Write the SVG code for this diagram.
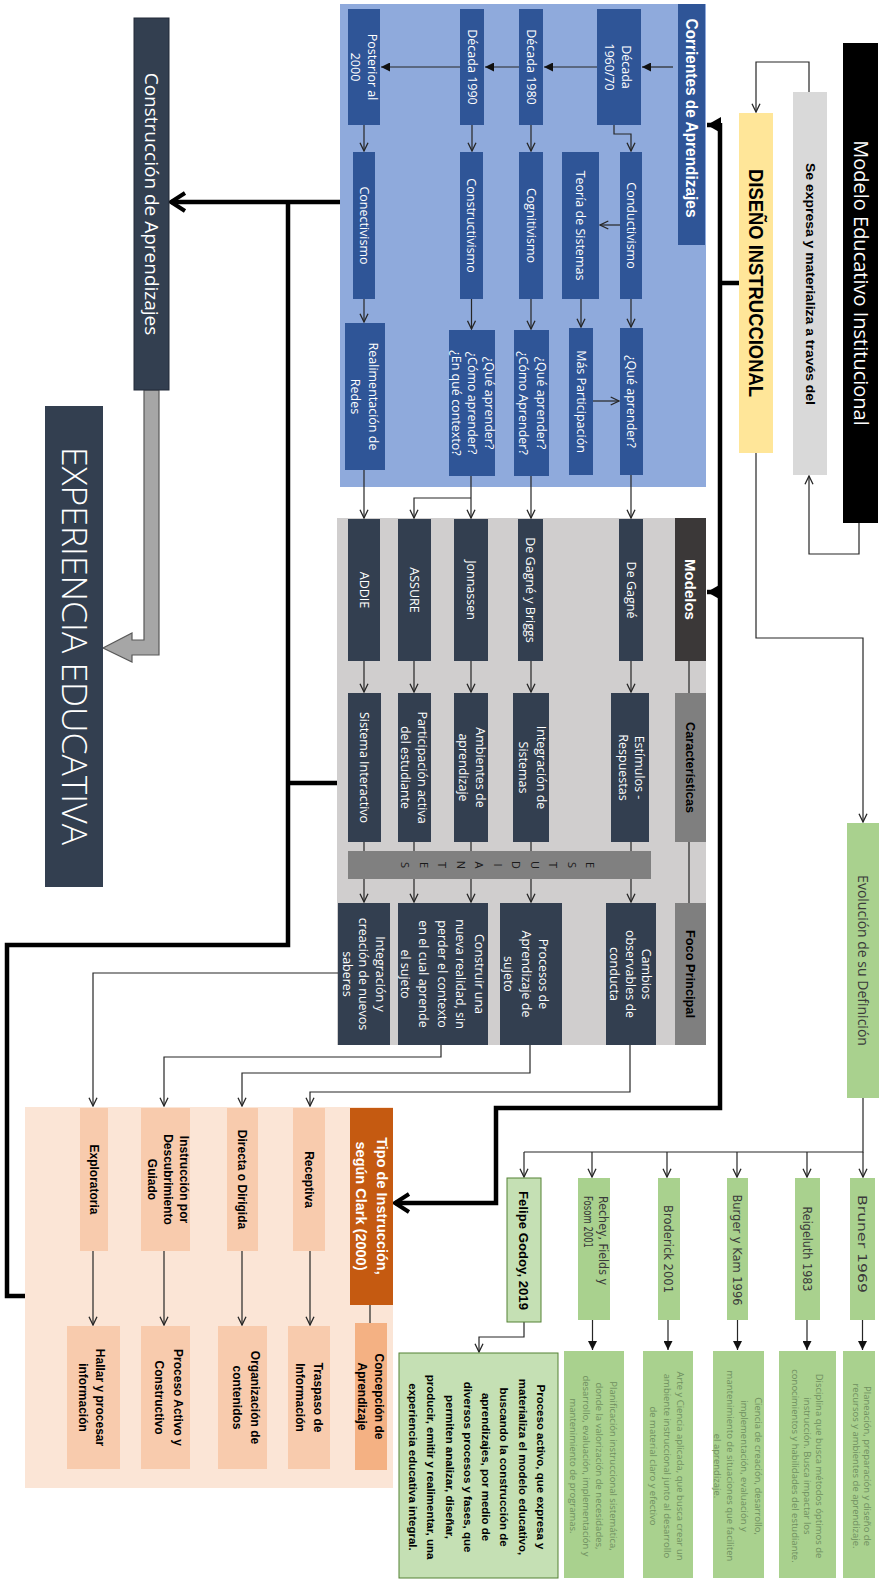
<svg xmlns="http://www.w3.org/2000/svg" width="882" height="1583" viewBox="0 0 882 1583">
<defs>
<style>
.s{font-family:"Open Sans","Noto Sans","DejaVu Sans",sans-serif;text-anchor:middle}
.v{font-family:"DejaVu Sans","Noto Sans",sans-serif;text-anchor:middle}
.b{font-family:"Liberation Sans Narrow","Liberation Sans",Arial,sans-serif;font-weight:bold;text-anchor:middle}
.w{fill:#ffffff}
.k{fill:#000000}
.d{fill:#3a3a3a}
.g{fill:#6f8f5f}
.f12{font-size:12.5px}
.f9{font-size:9.5px}
.f12b{font-size:12px}
.ln{fill:none;stroke:#262626;stroke-width:1.2}
.tk{fill:none;stroke:#000;stroke-width:4.5}
.blue{fill:#2f5597}
.navy{fill:#333f50}
.grn{fill:#a9d18e}
.pch{fill:#f8cbad}
.lg{fill:#c5e0b4;stroke:#548235;stroke-width:1}
</style>
<marker id="oa" viewBox="0 0 10 10" refX="9.3" refY="5" markerWidth="10" markerHeight="10" markerUnits="userSpaceOnUse" orient="auto"><path d="M1,1 L9.3,5 L1,9" fill="none" stroke="#262626" stroke-width="1.3"/></marker>
<marker id="fa" viewBox="0 0 10 10" refX="10" refY="5" markerWidth="9" markerHeight="9" markerUnits="userSpaceOnUse" orient="auto"><path d="M0,0 L10,5 L0,10z" fill="#111"/></marker>
<marker id="ta" viewBox="0 0 20 22" refX="17" refY="11" markerWidth="20" markerHeight="22" markerUnits="userSpaceOnUse" orient="auto"><path d="M3,2 L17,11 L3,20" fill="none" stroke="#000" stroke-width="4"/></marker>
<marker id="bt" viewBox="0 0 14 16" refX="14" refY="8" markerWidth="14" markerHeight="16" markerUnits="userSpaceOnUse" orient="auto"><path d="M0,0 L14,8 L0,16z" fill="#000"/></marker>
</defs>
<rect x="0" y="0" width="882" height="1583" fill="#ffffff"/>

<!-- panels -->
<g id="panel-corrientes"><rect x="340" y="4" width="366" height="483" fill="#8faadc"/></g>
<g id="panel-modelos"><rect x="337" y="518" width="369" height="527" fill="#d0cece"/></g>
<g id="panel-tipo"><rect x="25" y="1107" width="368" height="381" fill="#fbe5d6"/></g>

<!-- connectors -->
<g id="connectors">
<path class="ln" d="M859,523 V554 H809 V476" marker-end="url(#oa)"/>
<path class="ln" d="M809,92 V62 H756 V112" marker-end="url(#oa)"/>
<path class="ln" d="M756,453 V638 H863 V822" marker-end="url(#oa)"/>
<path class="ln" d="M863,1098 V1152 H524"/>
<path class="ln" d="M863,1152 V1177" marker-end="url(#oa)"/>
<path class="ln" d="M807,1152 V1177" marker-end="url(#oa)"/>
<path class="ln" d="M737,1152 V1177" marker-end="url(#oa)"/>
<path class="ln" d="M667,1152 V1177" marker-end="url(#oa)"/>
<path class="ln" d="M592,1152 V1177" marker-end="url(#oa)"/>
<path class="ln" d="M524,1152 V1177" marker-end="url(#oa)"/>
<path class="ln" d="M862.5,1320 V1350" marker-end="url(#fa)"/>
<path class="ln" d="M807,1320 V1350" marker-end="url(#fa)"/>
<path class="ln" d="M737.5,1320 V1350" marker-end="url(#fa)"/>
<path class="ln" d="M668,1320 V1350" marker-end="url(#fa)"/>
<path class="ln" d="M592.5,1320 V1350" marker-end="url(#fa)"/>
<path class="ln" d="M524,1322 V1337 H479 V1352" marker-end="url(#oa)"/>
<path class="ln" d="M673,67 H642" marker-end="url(#fa)"/>
<path class="ln" d="M597,67 H544" marker-end="url(#fa)"/>
<path class="ln" d="M519,67 H485" marker-end="url(#fa)"/>
<path class="ln" d="M460,67 H381" marker-end="url(#fa)"/>
<path class="ln" d="M614,125 V134 H631 V151" marker-end="url(#oa)"/>
<path class="ln" d="M531,125 V151" marker-end="url(#oa)"/>
<path class="ln" d="M472,125 V151" marker-end="url(#oa)"/>
<path class="ln" d="M364,125 V151" marker-end="url(#oa)"/>
<path class="ln" d="M620,225 H600" marker-end="url(#oa)"/>
<path class="ln" d="M631,299 V327" marker-end="url(#oa)"/>
<path class="ln" d="M581,299 V327" marker-end="url(#oa)"/>
<path class="ln" d="M531,299 V329" marker-end="url(#oa)"/>
<path class="ln" d="M471.5,299 V329" marker-end="url(#oa)"/>
<path class="ln" d="M364,299 V322" marker-end="url(#oa)"/>
<path class="ln" d="M593,401 H619" marker-end="url(#oa)"/>
<path class="ln" d="M631,475 V518" marker-end="url(#oa)"/>
<path class="ln" d="M531,476 V518" marker-end="url(#oa)"/>
<path class="ln" d="M471,476 V518" marker-end="url(#oa)"/>
<path class="ln" d="M471,498 H414 V518" marker-end="url(#oa)"/>
<path class="ln" d="M364,470 V518" marker-end="url(#oa)"/>
<path class="ln" d="M631,661 V692" marker-end="url(#oa)"/>
<path class="ln" d="M531,661 V692" marker-end="url(#oa)"/>
<path class="ln" d="M471,661 V692" marker-end="url(#oa)"/>
<path class="ln" d="M414,661 V692" marker-end="url(#oa)"/>
<path class="ln" d="M364,661 V692" marker-end="url(#oa)"/>
<path class="ln" d="M631,842 V851 M531,842 V851 M471,842 V851 M414,842 V851 M364,842 V851"/>
<path class="ln" d="M631,879 V902" marker-end="url(#oa)"/>
<path class="ln" d="M531,879 V902" marker-end="url(#oa)"/>
<path class="ln" d="M471,879 V902" marker-end="url(#oa)"/>
<path class="ln" d="M414,879 V902" marker-end="url(#oa)"/>
<path class="ln" d="M364,879 V902" marker-end="url(#oa)"/>
<path class="ln" d="M689,661 V693 M689,842 V903"/>
<path class="ln" d="M630,1045 V1092 H310 V1106" marker-end="url(#oa)"/>
<path class="ln" d="M530,1045 V1073 H242 V1106" marker-end="url(#oa)"/>
<path class="ln" d="M441,1045 V1057 H164 V1106" marker-end="url(#oa)"/>
<path class="ln" d="M338,973 H93 V1106" marker-end="url(#oa)"/>
<path class="ln" d="M370,1305 V1323"/>
<path class="ln" d="M310,1251 V1325" marker-end="url(#oa)"/>
<path class="ln" d="M242,1251 V1325" marker-end="url(#oa)"/>
<path class="ln" d="M164,1251 V1325" marker-end="url(#oa)"/>
<path class="ln" d="M93,1251 V1325" marker-end="url(#oa)"/>
<path class="tk" d="M720,283 H739"/>
<path class="tk" d="M720,123 V1108 H496 V1203 H395" marker-end="url(#ta)"/>
<path class="tk" d="M720,125 H707" marker-end="url(#bt)"/>
<path class="tk" d="M720,592 H707" marker-end="url(#bt)"/>
<path class="tk" d="M340,202 H171" marker-end="url(#ta)"/>
<path class="tk" d="M288,202 V945 H7 V1296 H25"/>
<path class="tk" d="M337,783 H288"/>
<polygon points="144,390 144,640 132,640 132,633 103,648 132,662 132,655 159,655 159,390" fill="#a6a6a6" stroke="#595959" stroke-width="1.2"/>
</g>

<!-- top nodes -->
<g id="modelo-educativo"><rect x="843" y="43" width="35" height="480" fill="#000"/><text class="s w" font-size="20" transform="translate(860.5,283) rotate(90)" y="7">Modelo Educativo Institucional</text></g>
<g id="se-expresa"><rect x="793" y="92" width="34" height="383" fill="#d9d9d9"/><text class="b k" font-size="12.5" transform="translate(810,284) rotate(90)" y="4.4" textLength="242" lengthAdjust="spacingAndGlyphs">Se expresa y materializa a través del</text></g>
<g id="diseno-instruccional"><rect x="739" y="113" width="34" height="340" fill="#ffe699"/><text class="b k" font-size="21" transform="translate(756,283) rotate(90)" y="7.5" textLength="228" lengthAdjust="spacingAndGlyphs">DISEÑO INSTRUCCIONAL</text></g>

<!-- corrientes -->
<g id="corrientes-titulo"><rect x="678" y="4" width="27" height="241" class="blue"/><text class="b w" font-size="16" transform="translate(691.5,118) rotate(90)" y="5.6" textLength="199" lengthAdjust="spacingAndGlyphs">Corrientes de Aprendizajes</text></g>
<g id="decada-1960"><rect x="597" y="9" width="44" height="116" class="blue"/><text class="s w f12" transform="translate(617.5,67) rotate(90)"><tspan x="0" y="-4.1">Década</tspan><tspan x="0" y="12.9">1960/70</tspan></text></g>
<g id="decada-1980"><rect x="519" y="9" width="24" height="116" class="blue"/><text class="s w f12" transform="translate(531,67) rotate(90)" y="4.4">Década 1980</text></g>
<g id="decada-1990"><rect x="460" y="9" width="24" height="116" class="blue"/><text class="s w f12" transform="translate(472,67) rotate(90)" y="4.4">Década 1990</text></g>
<g id="posterior-2000"><rect x="348" y="9" width="32" height="116" class="blue"/><text class="s w f12" transform="translate(363.5,67) rotate(90)"><tspan x="0" y="-4.1">Posterior al</tspan><tspan x="0" y="12.9">2000</tspan></text></g>
<g id="conductivismo"><rect x="620" y="152" width="22" height="147" class="blue"/><text class="s w f12" transform="translate(631,225.5) rotate(90)" y="4.4">Conductivismo</text></g>
<g id="teoria-sistemas"><rect x="562" y="152" width="37" height="147" class="blue"/><text class="s w f12" transform="translate(580.5,225.5) rotate(90)" y="4.4">Teoría de Sistemas</text></g>
<g id="cognitivismo"><rect x="519" y="152" width="24" height="147" class="blue"/><text class="s w f12" transform="translate(531,225.5) rotate(90)" y="4.4">Cognitivismo</text></g>
<g id="constructivismo"><rect x="460" y="152" width="23" height="147" class="blue"/><text class="s w f12" transform="translate(471.5,225.5) rotate(90)" y="4.4">Constructivismo</text></g>
<g id="conectivismo"><rect x="353" y="152" width="22" height="147" class="blue"/><text class="s w f12" transform="translate(364,225.5) rotate(90)" y="4.4">Conectivismo</text></g>
<g id="que-aprender-1"><rect x="620" y="328" width="23" height="147" class="blue"/><text class="s w f12" transform="translate(631.5,401.5) rotate(90)" y="4.4">¿Qué aprender?</text></g>
<g id="mas-participacion"><rect x="569" y="328" width="24" height="147" class="blue"/><text class="s w f12" transform="translate(581,401.5) rotate(90)" y="4.4">Más Participación</text></g>
<g id="que-aprender-2"><rect x="514" y="330" width="35" height="146" class="blue"/><text class="s w f12" transform="translate(532,403) rotate(90)"><tspan x="0" y="-4.6">¿Qué aprender?</tspan><tspan x="0" y="13.4">¿Cómo Aprender?</tspan></text></g>
<g id="que-aprender-3"><rect x="449" y="330" width="46" height="146" class="blue"/><text class="s w f12" transform="translate(472.5,403) rotate(90)"><tspan x="0" y="-12.1">¿Qué aprender?</tspan><tspan x="0" y="4.4">¿Cómo aprender?</tspan><tspan x="0" y="20.9">¿En qué contexto?</tspan></text></g>
<g id="realimentacion"><rect x="345" y="323" width="40" height="147" class="blue"/><text class="s w f12" transform="translate(364,396.5) rotate(90)"><tspan x="0" y="-4.6">Realimentación de</tspan><tspan x="0" y="13.4">Redes</tspan></text></g>

<!-- modelos -->
<g id="hdr-modelos"><rect x="675" y="518" width="31" height="143" fill="#3b3838"/><text class="b w" font-size="15" transform="translate(690.5,589.5) rotate(90)" y="5.2">Modelos</text></g>
<g id="hdr-caracteristicas"><rect x="675" y="693" width="31" height="149" fill="#7f7f7f"/><text class="b k" font-size="13" transform="translate(690.5,767.5) rotate(90)" y="4.6" textLength="91" lengthAdjust="spacingAndGlyphs">Características</text></g>
<g id="hdr-foco"><rect x="675" y="903" width="31" height="142" fill="#7f7f7f"/><text class="b k" font-size="13" transform="translate(690.5,974) rotate(90)" y="4.6" textLength="88" lengthAdjust="spacingAndGlyphs">Foco Principal</text></g>
<g id="de-gagne"><rect x="619" y="519" width="24" height="142" class="navy"/><text class="s w f12" transform="translate(631,590) rotate(90)" y="4.4">De Gagné</text></g>
<g id="gagne-briggs"><rect x="518" y="519" width="25" height="142" class="navy"/><text class="s w f12" transform="translate(530.5,590) rotate(90)" y="4.4">De Gagné y Briggs</text></g>
<g id="jonnassen"><rect x="454" y="519" width="34" height="142" class="navy"/><text class="s w f12" transform="translate(471,590) rotate(90)" y="4.4">Jonnassen</text></g>
<g id="assure"><rect x="398" y="519" width="33" height="142" class="navy"/><text class="s w f12" transform="translate(414.5,590) rotate(90)" y="4.4">ASSURE</text></g>
<g id="addie"><rect x="348" y="519" width="32" height="142" class="navy"/><text class="s w f12" transform="translate(364,590) rotate(90)" y="4.4">ADDIE</text></g>
<g id="estimulos"><rect x="611" y="693" width="38" height="149" class="navy"/><text class="s w f12" transform="translate(631,767.5) rotate(90)"><tspan x="0" y="-3.6">Estímulos -</tspan><tspan x="0" y="12.4">Respuestas</tspan></text></g>
<g id="integracion-sistemas"><rect x="513" y="693" width="36" height="149" class="navy"/><text class="s w f12" transform="translate(532,767.5) rotate(90)"><tspan x="0" y="-4.6">Integración de</tspan><tspan x="0" y="13.4">Sistemas</tspan></text></g>
<g id="ambientes"><rect x="454" y="693" width="34" height="149" class="navy"/><text class="s w f12" transform="translate(471.5,767.5) rotate(90)"><tspan x="0" y="-4.1">Ambientes de</tspan><tspan x="0" y="12.9">aprendizaje</tspan></text></g>
<g id="participacion"><rect x="398" y="693" width="33" height="149" class="navy"/><text class="s w f12" transform="translate(414,767.5) rotate(90)"><tspan x="0" y="-4.1">Participación activa</tspan><tspan x="0" y="12.9">del estudiante</tspan></text></g>
<g id="sistema-interactivo"><rect x="348" y="693" width="33" height="149" class="navy"/><text class="s w f12" transform="translate(364.5,767.5) rotate(90)" y="4.4">Sistema Interactivo</text></g>
<g id="estudiantes"><rect x="348" y="851" width="303" height="28" fill="#808080"/><text class="s" font-size="11" fill="#1a1a1a" transform="translate(590,865) rotate(90)"><tspan x="0" y="4">E</tspan><tspan x="0" y="22.5">S</tspan><tspan x="0" y="41">T</tspan><tspan x="0" y="59.5">U</tspan><tspan x="0" y="78">D</tspan><tspan x="0" y="96.5">I</tspan><tspan x="0" y="115">A</tspan><tspan x="0" y="133.5">N</tspan><tspan x="0" y="152">T</tspan><tspan x="0" y="170.5">E</tspan><tspan x="0" y="189">S</tspan></text></g>
<g id="cambios"><rect x="606" y="903" width="50" height="142" class="navy"/><text class="s w f12" transform="translate(630,974) rotate(90)"><tspan x="0" y="-11.6">Cambios</tspan><tspan x="0" y="4.4">observables de</tspan><tspan x="0" y="20.4">conducta</tspan></text></g>
<g id="procesos"><rect x="500" y="903" width="62" height="142" class="navy"/><text class="s w f12" transform="translate(526,974) rotate(90)"><tspan x="0" y="-13.1">Procesos de</tspan><tspan x="0" y="4.4">Aprendizaje de</tspan><tspan x="0" y="21.9">sujeto</tspan></text></g>
<g id="construir"><rect x="398" y="903" width="90" height="142" class="navy"/><text class="s w f12" transform="translate(442,974) rotate(90)"><tspan x="0" y="-32.6">Construir una</tspan><tspan x="0" y="-14.1">nueva realidad, sin</tspan><tspan x="0" y="4.4">perder el contexto</tspan><tspan x="0" y="22.9">en el cual aprende</tspan><tspan x="0" y="41.4">el sujeto</tspan></text></g>
<g id="integracion-saberes"><rect x="338" y="903" width="52" height="142" class="navy"/><text class="s w f12" transform="translate(363.5,974) rotate(90)"><tspan x="0" y="-12.1">Integración y</tspan><tspan x="0" y="4.4">creación de nuevos</tspan><tspan x="0" y="20.9">saberes</tspan></text></g>

<!-- left -->
<g id="construccion"><rect x="134" y="18" width="35" height="372" fill="#333f50" stroke="#222b38"/><text class="s w" font-size="19" transform="translate(151.5,204) rotate(90)" y="6.6">Construcción de Aprendizajes</text></g>
<g id="experiencia"><rect x="45" y="406" width="58" height="481" fill="#333f50"/><text class="s w" font-size="34" font-weight="300" transform="translate(74,646) rotate(90)" y="12" textLength="398" lengthAdjust="spacingAndGlyphs">EXPERIENCIA EDUCATIVA</text></g>

<!-- tipo de instruccion -->
<g id="tipo-titulo"><rect x="350" y="1108" width="43" height="197" fill="#c55a11"/><text class="b w" font-size="14.5" transform="translate(371.5,1206) rotate(90)"><tspan x="0" y="-5.5">Tipo de Instrucción,</tspan><tspan x="0" y="15.5">según Clark (2000)</tspan></text></g>
<g id="receptiva"><rect x="293" y="1108" width="32" height="143" class="pch"/><text class="b k f12b" transform="translate(309,1179.5) rotate(90)" y="4.2">Receptiva</text></g>
<g id="directa"><rect x="227" y="1108" width="31" height="143" class="pch"/><text class="b k f12b" transform="translate(242.5,1179.5) rotate(90)" y="4.2">Directa o Dirigida</text></g>
<g id="descubrimiento"><rect x="141" y="1108" width="49" height="143" class="pch"/><text class="b k f12b" transform="translate(168,1179.5) rotate(90)"><tspan x="0" y="-11.8">Instrucción por</tspan><tspan x="0" y="4.2">Descubrimiento</tspan><tspan x="0" y="20.2">Guiado</tspan></text></g>
<g id="exploratoria"><rect x="80" y="1108" width="28" height="143" class="pch"/><text class="b k f12b" transform="translate(94,1179.5) rotate(90)" y="4.2">Exploratoria</text></g>
<g id="concepcion"><rect x="355" y="1323" width="32" height="147" fill="#f4b183"/><text class="b k f12b" transform="translate(371,1396.5) rotate(90)"><tspan x="0" y="-4.3">Concepción de</tspan><tspan x="0" y="12.7">Aprendizaje</tspan></text></g>
<g id="traspaso"><rect x="288" y="1326" width="42" height="143" class="pch"/><text class="b k f12b" transform="translate(309,1397.5) rotate(90)"><tspan x="0" y="-4.8">Traspaso de</tspan><tspan x="0" y="13.2">Información</tspan></text></g>
<g id="organizacion"><rect x="218" y="1326" width="49" height="143" class="pch"/><text class="b k f12b" transform="translate(246,1397.5) rotate(90)"><tspan x="0" y="-4.8">Organización de</tspan><tspan x="0" y="13.2">contenidos</tspan></text></g>
<g id="proceso-activo"><rect x="141" y="1326" width="49" height="143" class="pch"/><text class="b k f12b" transform="translate(168.5,1397.5) rotate(90)"><tspan x="0" y="-5.3">Proceso Activo y</tspan><tspan x="0" y="13.7">Constructivo</tspan></text></g>
<g id="hallar"><rect x="67" y="1326" width="53" height="143" class="pch"/><text class="b k f12b" transform="translate(92,1397.5) rotate(90)"><tspan x="0" y="-4.3">Hallar y procesar</tspan><tspan x="0" y="12.7">información</tspan></text></g>

<!-- evolucion -->
<g id="evolucion"><rect x="847" y="823" width="32" height="275" class="grn"/><text class="s d" font-size="14" transform="translate(863,960.5) rotate(90)" y="4.9">Evolución de su Definición</text></g>
<g id="bruner"><rect x="850" y="1178" width="25" height="142" class="grn"/><text class="v d" font-size="13" transform="translate(862.5,1244) rotate(90)" y="4.6" textLength="98" lengthAdjust="spacingAndGlyphs">Bruner 1969</text></g>
<g id="reigeluth"><rect x="795" y="1178" width="25" height="142" class="grn"/><text class="v d" font-size="13" transform="translate(807.5,1249) rotate(90)" y="4.6" textLength="85" lengthAdjust="spacingAndGlyphs">Reigeluth 1983</text></g>
<g id="burger"><rect x="727" y="1178" width="21" height="142" class="grn"/><text class="v d" font-size="13" transform="translate(737.5,1250) rotate(90)" y="4.6" textLength="111" lengthAdjust="spacingAndGlyphs">Burger y Kam 1996</text></g>
<g id="broderick"><rect x="658" y="1178" width="22" height="142" class="grn"/><text class="v d" font-size="13" transform="translate(669,1249) rotate(90)" y="4.6" textLength="88" lengthAdjust="spacingAndGlyphs">Broderick 2001</text></g>
<g id="rechey"><rect x="578" y="1178" width="32" height="142" class="grn"/><text class="v d" font-size="13" text-anchor="start" style="text-anchor:start" transform="translate(595.5,1196) rotate(90)"><tspan x="0" y="-3" textLength="89" lengthAdjust="spacingAndGlyphs">Rechey, Fields y</tspan><tspan x="0" y="12" textLength="52" lengthAdjust="spacingAndGlyphs">Fosom 2001</tspan></text></g>
<g id="felipe"><rect x="507" y="1178" width="34" height="144" class="lg"/><text class="b k" font-size="13" transform="translate(524,1250.5) rotate(90)" y="4.6" textLength="119" lengthAdjust="spacingAndGlyphs">Felipe Godoy, 2019</text></g>
<g id="bruner-def"><rect x="843" y="1351" width="32" height="227" class="grn"/><text class="s g f9" transform="translate(861.5,1466) rotate(90)"><tspan x="0" y="-2.2">Planeación, preparación y diseño de</tspan><tspan x="0" y="8.8">recursos y ambientes de aprendizaje.</tspan></text></g>
<g id="reigeluth-def"><rect x="779" y="1351" width="57" height="227" class="grn"/><text class="s g f9" transform="translate(807,1466) rotate(90)"><tspan x="0" y="-8.7">Disciplina que busca métodos óptimos de</tspan><tspan x="0" y="3.3">instrucción. Busca impactar los</tspan><tspan x="0" y="15.3">conocimientos y habilidades del estudiante.</tspan></text></g>
<g id="burger-def"><rect x="713" y="1351" width="51" height="227" class="grn"/><text class="s g f9" transform="translate(737.5,1466) rotate(90)"><tspan x="0" y="-17.3">Ciencia de creación, desarrollo,</tspan><tspan x="0" y="-3.6">implementación, evaluación y</tspan><tspan x="0" y="10.1">mantenimiento de situaciones que faciliten</tspan><tspan x="0" y="23.8">el aprendizaje.</tspan></text></g>
<g id="broderick-def"><rect x="643" y="1351" width="50" height="227" class="grn"/><text class="s g f9" transform="translate(667,1466) rotate(90)"><tspan x="0" y="-10.2">Arte y Ciencia aplicada, que busca crear un</tspan><tspan x="0" y="3.3">ambiente instruccional junto al desarrollo</tspan><tspan x="0" y="16.8">de material claro y efectivo</tspan></text></g>
<g id="rechey-def"><rect x="564" y="1351" width="60" height="227" class="grn"/><text class="s g f9" transform="translate(593,1466) rotate(90)"><tspan x="0" y="-16.7">Planificación instruccional sistemática,</tspan><tspan x="0" y="-3.4">donde la valorización de necesidades,</tspan><tspan x="0" y="9.9">desarrollo, evaluación, implementación y</tspan><tspan x="0" y="23.2">mantenimiento de programas.</tspan></text></g>
<g id="felipe-def"><rect x="399" y="1353" width="159" height="225" class="lg"/><text class="b k" font-size="11.5" transform="translate(477,1467) rotate(90)"><tspan x="0" y="-60">Proceso activo, que expresa y</tspan><tspan x="0" y="-41.7">materializa el modelo educativo,</tspan><tspan x="0" y="-23.4">buscando la construcción de</tspan><tspan x="0" y="-5.1">aprendizajes, por medio de</tspan><tspan x="0" y="13.2">diversos procesos y fases, que</tspan><tspan x="0" y="31.5">permiten analizar, diseñar,</tspan><tspan x="0" y="49.8">producir, emitir y realimentar, una</tspan><tspan x="0" y="68.1">experiencia educativa integral.</tspan></text></g>
</svg>
